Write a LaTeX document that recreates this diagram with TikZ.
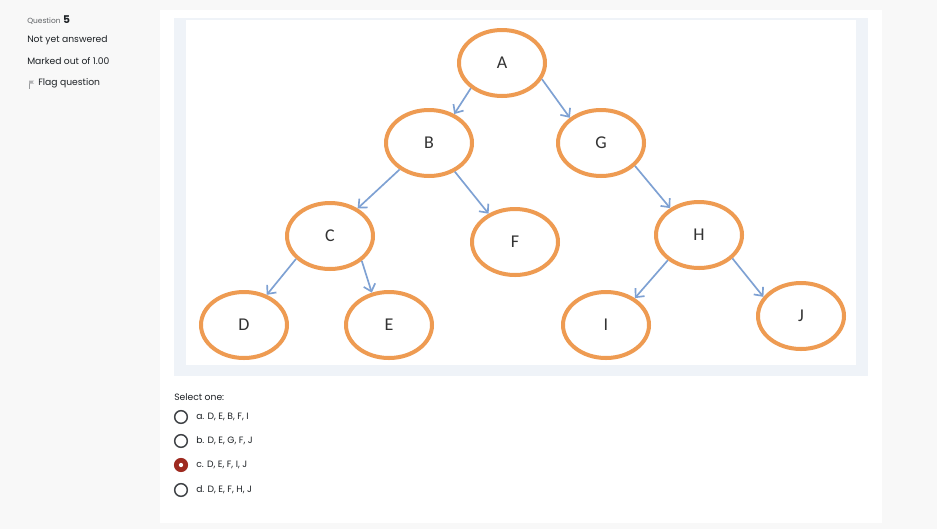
\documentclass[tikz,border=0pt]{standalone}
\usepackage{fontspec}
\setmainfont{Poppins}
\newfontfamily\treefont{Carlito}
\usepackage{tikz}
\usetikzlibrary{arrows.meta, shapes.geometric}

\definecolor{pagegray}{HTML}{F8F8F8}
\definecolor{framegray}{HTML}{EFF3F8}
\definecolor{nodeorange}{HTML}{EE9B52}
\definecolor{edgeblue}{HTML}{7EA1D3}
\definecolor{textdark}{HTML}{1D2125}
\definecolor{checkred}{HTML}{9E2A20}

\begin{document}
\begin{tikzpicture}[x=0.75pt,y=-0.75pt,
    vertex/.style={ellipse, draw=nodeorange, line width=3pt, fill=white,
      minimum width=64.5pt, minimum height=49.5pt, inner sep=0pt,
      font=\treefont\fontsize{13.5}{14}\selectfont, text=black!80},
    link/.style={draw=edgeblue, line width=1.25pt,
      -{Straight Barb[length=5pt,width=9pt]}},
    uitext/.style={anchor=west, inner sep=0pt, text=textdark,
      font=\fontsize{6.9}{8}\selectfont},
    radio/.style={circle, draw=textdark!85, line width=1.1pt,
      minimum size=9.5pt, inner sep=0pt}]
      \useasboundingbox (0,0) rectangle (937,529);

      % Draw page, card and picture frame
      \fill[pagegray] (0,0) rectangle (937,529);
      \fill[white] (160,10) rectangle (882,523);
      \fill[framegray] (174,18) rectangle (868,376);
      \fill[white] (186,20) rectangle (856,365);

      % Question info
      \node[uitext, text=textdark!70, font=\fontsize{5.6}{6}\selectfont] (qword) at (27,21) {Question};
      \node[uitext, font=\bfseries\fontsize{8}{9}\selectfont, anchor=base west] (qnum) at ([xshift=1.5pt]qword.base east) {5};
      \node[uitext] (status) at (27,40) {Not yet answered};
      \node[uitext] (marks) at (27,61) {Marked out of 1.00};
      \draw[textdark!45, line width=0.5pt] (29,80.5) -- (29,88.5);
      \fill[textdark!35] (29,80.5) -- (34,80.5) -- (32.5,82) -- (34,83.5) -- (29,83.5) -- cycle;
      \node[uitext] (flag) at (38,83) {Flag question};

      % Tree nodes
      \node[vertex] (A) at (502,63) {A};
      \node[vertex] (B) at (429,143) {B};
      \node[vertex] (G) at (601,143) {G};
      \node[vertex] (C) at (330,236) {C};
      \node[vertex] (F) at (515,242) {F};
      \node[vertex] (H) at (699,235) {H};
      \node[vertex] (D) at (244,325) {D};
      \node[vertex] (E) at (389,325) {E};
      \node[vertex] (I) at (606,325) {I};
      \node[vertex] (J) at (801,316) {J};

      % Draw edges
      \draw[link] (A.219) -- (B.49);
      \draw[link] (A.338) -- (G.141);
      \draw[link] (B.222) -- (C.45);
      \draw[link] (B.312) -- (F.133);
      \draw[link] (G.326) -- (H.137);
      \draw[link] (C.214) -- (D.53);
      \draw[link] (C.322) -- (E.118);
      \draw[link] (H.219) -- (I.43);
      \draw[link] (H.325) -- (J.153);

      % Answer options
      \node[uitext] (select) at (174,397) {Select one:};
      \node[radio] (ra) at (181,417) {};
      \node[radio] (rb) at (181,441) {};
      \node[radio, fill=checkred, draw=checkred] (rc) at (181,465) {};
      \node[radio] (rd) at (181,490) {};
      \fill[white] (rc) circle (1.6pt);
      \node[uitext] (oa) at (196,417) {a. D, E, B, F, I};
      \node[uitext] (ob) at (196,441) {b. D, E, G, F, J};
      \node[uitext] (oc) at (196,465) {c. D, E, F, I, J};
      \node[uitext] (od) at (196,490) {d. D, E, F, H, J};
    \end{tikzpicture}
\end{document}
